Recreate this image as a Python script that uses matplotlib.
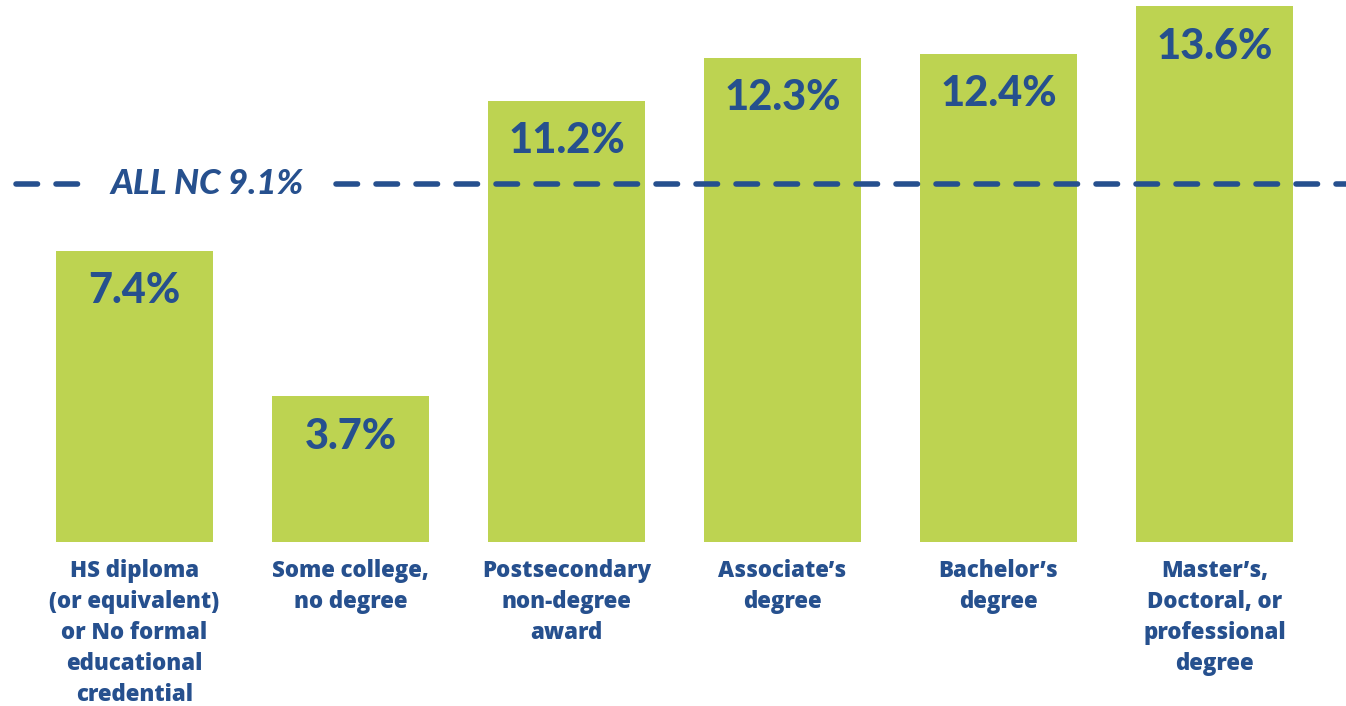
import matplotlib.pyplot as plt
import numpy as np

# Share of workers by highest education level
categories = [
    "HS diploma\n(or equivalent)\nor No formal\neducational\ncredential",
    "Some college,\nno degree",
    "Postsecondary\nnon-degree\naward",
    "Associate\u2019s\ndegree",
    "Bachelor\u2019s\ndegree",
    "Master\u2019s,\nDoctoral, or\nprofessional\ndegree",
]
values = [7.4, 3.7, 11.2, 12.3, 12.4, 13.6]
all_nc = 9.1

BAR_GREEN = "#BDD351"
NAVY = "#26508E"

plt.rcParams["font.family"] = ["Lato", "DejaVu Sans"]
plt.rcParams["lines.scale_dashes"] = False

fig = plt.figure(figsize=(13.46, 7.06), dpi=100)
ax = fig.add_axes([0, 164 / 706, 1, 542 / 706])

x = np.arange(len(values))
ax.bar(x, values, width=0.727, color=BAR_GREEN, zorder=1)

for xi, v in zip(x, values):
    ax.annotate(f"{v:.1f}%", (xi, v), xytext=(0, -29), textcoords="offset points",
                ha="center", va="center", fontsize=30, fontweight="black",
                color=NAVY, zorder=3)

# statewide reference line, broken around its label
line_kw = dict(color=NAVY, lw=4, dashes=(15.5, 13.3), dash_capstyle="round", zorder=2)
ax.axhline(all_nc, xmin=16 / 1346, xmax=82 / 1346, **line_kw)
ax.axhline(all_nc, xmin=336 / 1346, xmax=1, **line_kw)
ax.text(0.336, all_nc, f"ALL NC {all_nc}%", ha="center", va="center",
        fontsize=25, fontweight="black", fontstyle="italic", color=NAVY, zorder=3)

ax.set_xlim(-0.623, 5.609)
ax.set_ylim(0, 13.76)
ax.set_xticks(x, categories, family=["Open Sans", "DejaVu Sans"], fontsize=16,
              fontweight="heavy", color=NAVY, linespacing=1.4)
ax.tick_params(axis="x", length=0, pad=12)
ax.set_yticks([])
for s in ax.spines.values():
    s.set_visible(False)

fig.savefig("out.png", dpi=100)
